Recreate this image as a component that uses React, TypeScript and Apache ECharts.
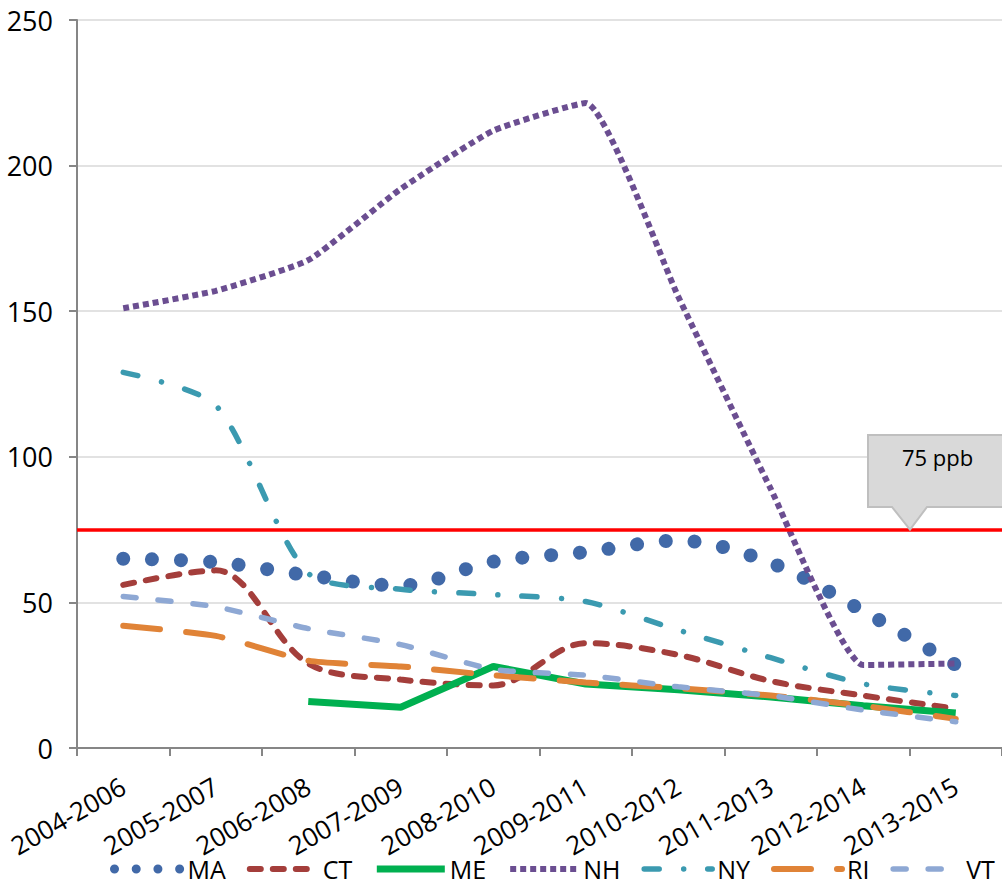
import React, { useEffect, useRef } from "react";
import * as echarts from "echarts";

// Three-year periods on the category axis
const periods = [
  "2004-2006",
  "2005-2007",
  "2006-2008",
  "2007-2009",
  "2008-2010",
  "2009-2011",
  "2010-2012",
  "2011-2013",
  "2012-2014",
  "2013-2015",
];

// Design values per state (ppb)
const maValues = [65, 63.8, 59.3, 55.8, 64, 67.3, 71.2, 63.6, 47, 28.5];
const ctValues = [56, 61, 29, 23.5, 21.5, 36, 32, 23, 18, 13.5];
const meValues = [null, null, 16, 14, 28, 22, 20, 17.5, 14.5, 12];
const nhValues = [151, 157, 167.5, 192, 212, 221.5, 155, 89, 28.5, 29];
const nyValues = [129, 117.7, 60, 54.5, 52.7, 50.3, 40.5, 31, 22, 18];
const riValues = [42, 38.5, 30, 28, 25, 22.5, 20.5, 18, 14.5, 10];
const vtValues = [52, 48.5, 41, 35.5, 27, 25, 21, 18, 13, 9];

// Value axis range
const yMin = 0;
const yMax = 250;
const yStep = 50;

// Reference standard
const standardValue = 75;
const standardLabel = "75 ppb";

const FONT = "'Open Sans', 'DejaVu Sans', sans-serif";

function buildOption(maDotGap: number): any {
  const line = (
    name: string,
    data: (number | null)[],
    lineStyle: any,
    smooth: number | boolean
  ) => ({
    name,
    type: "line",
    data,
    symbol: "none",
    showSymbol: false,
    smooth,
    connectNulls: false,
    lineStyle,
    itemStyle: { color: lineStyle.color },
    emphasis: { disabled: true },
  });

  return {
    animation: false,
    backgroundColor: "#ffffff",
    grid: { left: 77, right: -6, top: 20, bottom: 139, containLabel: false },
    xAxis: {
      type: "category",
      data: periods,
      boundaryGap: true,
      axisLine: { show: true, lineStyle: { color: "#868686", width: 2 } },
      axisTick: {
        show: true,
        alignWithLabel: false,
        length: 8,
        lineStyle: { color: "#868686", width: 2 },
      },
      axisLabel: {
        interval: 0,
        rotate: 30,
        margin: 36,
        color: "#000",
        fontFamily: FONT,
        fontSize: 26,
      },
      splitLine: { show: false },
    },
    yAxis: {
      type: "value",
      min: yMin,
      max: yMax,
      interval: yStep,
      axisLine: { show: true, lineStyle: { color: "#868686", width: 2 } },
      axisTick: {
        show: true,
        length: 8,
        lineStyle: { color: "#868686", width: 2 },
      },
      axisLabel: {
        margin: 24,
        color: "#000",
        fontFamily: FONT,
        fontSize: 27,
      },
      splitLine: { show: true, lineStyle: { color: "#d9d9d9", width: 1.5 } },
    },
    legend: {
      left: 105,
      top: 851,
      width: 1100,
      itemWidth: 68,
      itemHeight: 26,
      itemGap: 21,
      textStyle: {
        color: "#000",
        fontFamily: FONT,
        fontSize: 25,
        lineHeight: 26,
      },
      itemStyle: {
        color: "transparent",
        borderColor: "transparent",
        borderWidth: 0,
        opacity: 0,
      },
      lineStyle: { width: "inherit" },
      data: [
        {
          name: "MA",
          lineStyle: { width: 9, type: [0.01, 21.7], cap: "round" },
        },
        "CT",
        "ME",
        "NH",
        "NY",
        "RI",
        "VT",
      ],
    },
    series: [
      {
        name: "standard",
        type: "line",
        data: [],
        symbol: "none",
        silent: true,
        markLine: {
          silent: true,
          symbol: ["none", "none"],
          label: { show: false },
          lineStyle: { color: "#ff0000", width: 3.5, type: "solid" },
          data: [{ yAxis: standardValue }],
        },
      },
      line(
        "MA",
        maValues,
        {
          color: "#4169A8",
          width: 14,
          type: [0.01, maDotGap - 0.01],
          cap: "round",
        },
        0.33
      ),
      line(
        "CT",
        ctValues,
        { color: "#A43E3B", width: 6, type: [11, 12], cap: "round" },
        0.33
      ),
      line("ME", meValues, { color: "#00B050", width: 7, type: "solid" }, false),
      line(
        "NH",
        nhValues,
        { color: "#6B4E91", width: 6, type: [6, 4], cap: "butt" },
        0.15
      ),
      line(
        "NY",
        nyValues,
        {
          color: "#3B9AB0",
          width: 5.5,
          type: [15, 24.5, 0.01, 24],
          cap: "round",
        },
        0.25
      ),
      line(
        "RI",
        riValues,
        { color: "#E08337", width: 6, type: [37, 26], cap: "round" },
        0.2
      ),
      line(
        "VT",
        vtValues,
        { color: "#8EA8D4", width: 5.5, type: [13, 22], cap: "round" },
        0.2
      ),
    ],
  };
}

export default function App() {
  const ref = useRef<HTMLDivElement | null>(null);

  useEffect(() => {
    if (!ref.current) return;
    const chart = echarts.init(ref.current, undefined, { renderer: "svg" });

    chart.setOption(buildOption(29));

    // Space the MA dots so that one falls on each end of the line
    let length = 0;
    let prev: number[] | null = null;
    maValues.forEach((v, i) => {
      const p = chart.convertToPixel({ gridIndex: 0 }, [i, v]) as number[];
      if (prev) length += Math.hypot(p[0] - prev[0], p[1] - prev[1]);
      prev = p;
    });
    const dots = Math.max(1, Math.round(length / 29));
    chart.setOption(buildOption((length * 0.999) / dots));

    // Callout pointing at the standard line
    const tipY = chart.convertToPixel({ yAxisIndex: 0 }, standardValue) as number;
    const boxTop = 435;
    const boxBottom = 507;
    chart.setOption({
      graphic: [
        {
          type: "polygon",
          z: 100,
          shape: {
            points: [
              [868, boxTop],
              [1010, boxTop],
              [1010, boxBottom],
              [927, boxBottom],
              [910, tipY],
              [892, boxBottom],
              [868, boxBottom],
            ],
          },
          style: { fill: "#d9d9d9", stroke: "#bfbfbf", lineWidth: 2 },
        },
        {
          type: "text",
          z: 101,
          left: 902,
          top: 446,
          style: {
            text: standardLabel,
            fill: "#000",
            font: `22px ${FONT}`,
          },
        },
      ],
    });

    return () => chart.dispose();
  }, []);

  return (
    <div
      ref={ref}
      style={{
        position: "absolute",
        left: 0,
        top: 0,
        width: 1002,
        height: 887,
        overflow: "hidden",
      }}
    />
  );
}
